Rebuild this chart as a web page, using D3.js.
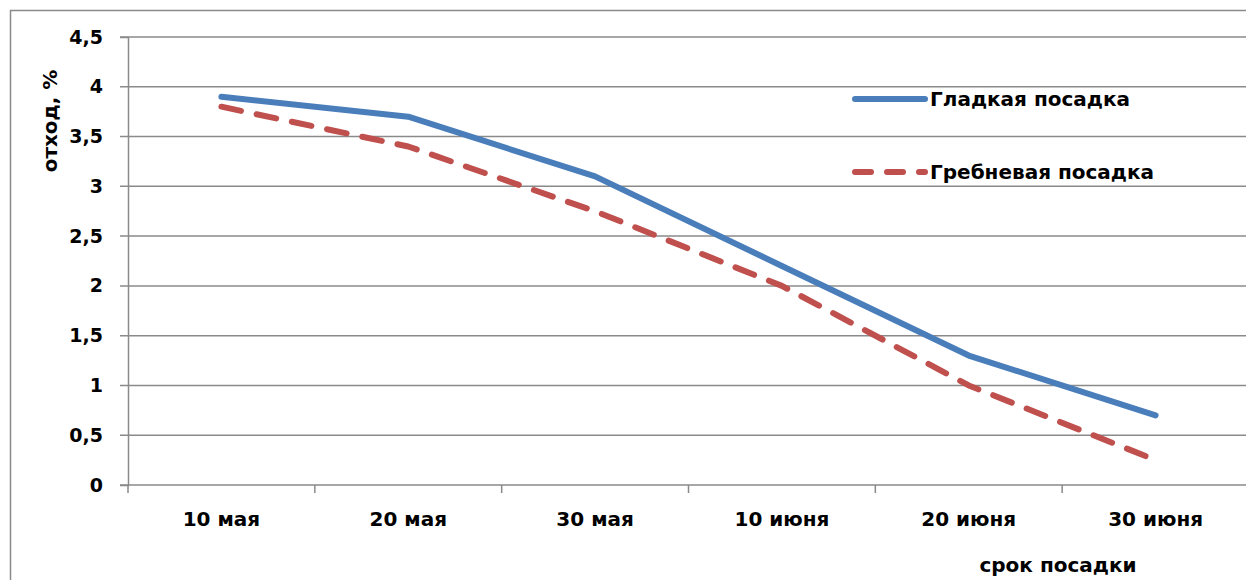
<!DOCTYPE html>
<html>
<head>
<meta charset="utf-8">
<script src="https://cdn.jsdelivr.net/npm/d3@7"></script>
<style>
  body { margin: 0; background: #fff; }
  text { font-family: "DejaVu Sans", "Open Sans", sans-serif; font-weight: bold; fill: #000; }
</style>
</head>
<body>
<div id="chart"></div>
<script>
// data
const categories = ["10 мая", "20 мая", "30 мая", "10 июня", "20 июня", "30 июня"];
const smooth = [3.9, 3.7, 3.1, 2.2, 1.3, 0.7];   // Гладкая посадка
const ridge = [3.8, 3.4, 2.75, 2.0, 1.0, 0.25];  // Гребневая посадка
const yTicks = [0, 0.5, 1, 1.5, 2, 2.5, 3, 3.5, 4, 4.5];
const seriesNames = ["Гладкая посадка", "Гребневая посадка"];

const width = 1246, height = 580;
const plotLeft = 128, plotTop = 37, plotBottom = 485, plotRight = 1249;
const grid = "#8a8a8a";
const dash = "20,16";

const svg = d3.select("#chart").append("svg")
    .attr("width", width)
    .attr("height", height);

// outer chart border (runs off the right/bottom edge)
svg.append("rect")
    .attr("x", 10.5).attr("y", 10.5)
    .attr("width", 1300).attr("height", 700)
    .attr("fill", "none")
    .attr("stroke", grid)
    .attr("stroke-width", 1.5);

const x = d3.scaleBand()
    .domain(categories)
    .range([plotLeft, plotRight]);

const y = d3.scaleLinear()
    .domain([0, 4.5])
    .range([plotBottom, plotTop]);

// gridlines
svg.append("g")
  .selectAll("line")
  .data(yTicks)
  .join("line")
    .attr("x1", plotLeft - 8)
    .attr("x2", plotRight)
    .attr("y1", d => y(d))
    .attr("y2", d => y(d))
    .attr("stroke", grid)
    .attr("stroke-width", 1.5);

// y axis
const yAxis = svg.append("g")
    .attr("transform", `translate(${plotLeft},0)`)
    .call(d3.axisLeft(y).tickValues(yTicks).tickSize(8).tickPadding(17)
      .tickFormat(d => String(d).replace(".", ",")));
yAxis.select(".domain").attr("stroke", grid).attr("stroke-width", 1.5);
yAxis.selectAll(".tick line").remove();
yAxis.selectAll("text").attr("font-size", 19).attr("font-family", null);

// x axis
const xAxis = svg.append("g")
    .attr("transform", `translate(0,${plotBottom})`)
    .call(d3.axisBottom(x).tickSize(0).tickPadding(27));
xAxis.select(".domain").remove();
xAxis.selectAll("text").attr("font-size", 20).attr("font-family", null);

// x tick marks at band edges
svg.append("g")
  .selectAll("line")
  .data(categories)
  .join("line")
    .attr("x1", d => x(d))
    .attr("x2", d => x(d))
    .attr("y1", plotBottom)
    .attr("y2", plotBottom + 8)
    .attr("stroke", grid)
    .attr("stroke-width", 1.5);

// axis titles
svg.append("text")
    .attr("transform", "translate(57,121) rotate(-90)")
    .attr("text-anchor", "middle")
    .attr("font-size", 20)
    .text("отход, %");

svg.append("text")
    .attr("x", 1058)
    .attr("y", 572)
    .attr("text-anchor", "middle")
    .attr("font-size", 20)
    .text("срок посадки");

// lines
const line = d3.line()
    .x((d, i) => x(categories[i]) + x.bandwidth() / 2)
    .y(d => y(d));

svg.append("path")
    .datum(smooth)
    .attr("d", line)
    .attr("fill", "none")
    .attr("stroke", "#4a7ebb")
    .attr("stroke-width", 6)
    .attr("stroke-linecap", "round")
    .attr("stroke-linejoin", "round");

svg.append("path")
    .datum(ridge)
    .attr("d", line)
    .attr("fill", "none")
    .attr("stroke", "#c0504d")
    .attr("stroke-width", 6)
    .attr("stroke-linecap", "round")
    .attr("stroke-linejoin", "round")
    .attr("stroke-dasharray", dash);

// legend
const legend = svg.append("g");
const legendY = [99, 172];
const legendColors = ["#4a7ebb", "#c0504d"];
const legendDash = [null, "16,16"];

seriesNames.forEach((name, i) => {
  legend.append("line")
      .attr("x1", 855).attr("x2", 925)
      .attr("y1", legendY[i]).attr("y2", legendY[i])
      .attr("stroke", legendColors[i])
      .attr("stroke-width", 6)
      .attr("stroke-linecap", "round")
      .attr("stroke-dasharray", legendDash[i]);
  legend.append("text")
      .attr("x", 930)
      .attr("y", legendY[i] + 7)
      .attr("font-size", 20)
      .text(name);
});
</script>
</body>
</html>
